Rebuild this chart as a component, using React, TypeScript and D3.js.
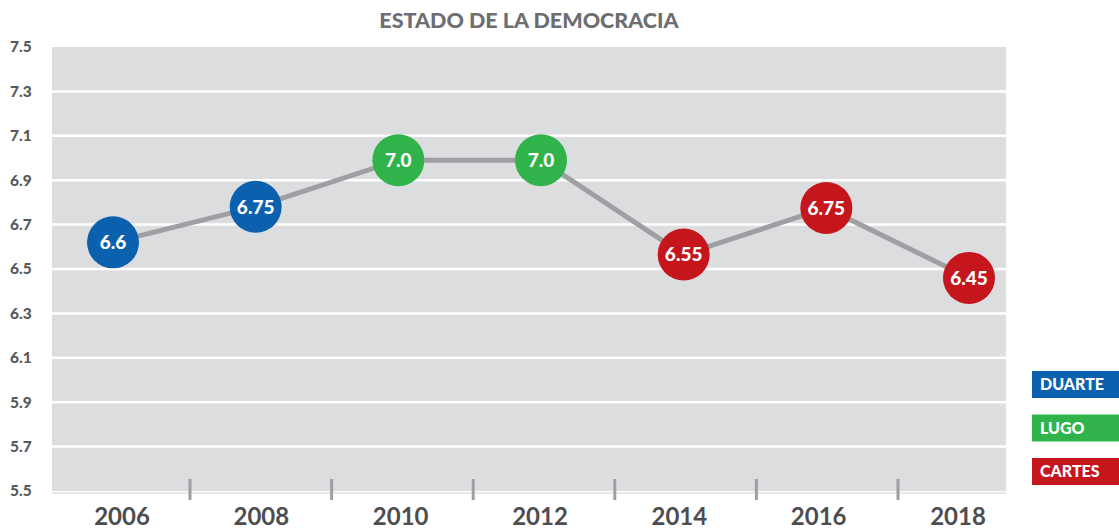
import React from "react";
import * as d3 from "d3";

const years = ["2006", "2008", "2010", "2012", "2014", "2016", "2018"];
const scoreLabels = ["6.6", "6.75", "7.0", "7.0", "6.55", "6.75", "6.45"];
const plotted = [6.62, 6.78, 6.99, 6.99, 6.565, 6.775, 6.46];
const presidents = ["DUARTE", "DUARTE", "LUGO", "LUGO", "CARTES", "CARTES", "CARTES"];
const yTicks = [5.5, 5.7, 5.9, 6.1, 6.3, 6.5, 6.7, 6.9, 7.1, 7.3, 7.5];
const legendNames = ["DUARTE", "LUGO", "CARTES"];
const legendColors = ["#0b61ad", "#2fb34a", "#c5161d"];

const W = 1119;
const H = 529;
const FONT = "Lato, 'Open Sans', sans-serif";

export default function App() {
  const color = d3.scaleOrdinal<string, string>().domain(legendNames).range(legendColors);
  const y = d3.scaleLinear().domain([5.5, 7.5]).range([491, 47]);
  const xPts = d3.scalePoint<string>().domain(years).range([113, 969]);
  const xLab = d3.scalePoint<string>().domain(years).range([122, 958]);
  const gaps = years.slice(1);
  const xTick = d3.scalePoint<string>().domain(gaps).range([190, 898]);
  const line = d3
    .line<number>()
    .x((_, i) => xPts(years[i]) as number)
    .y((d) => y(d));

  return (
    <svg width={W} height={H} style={{ position: "absolute", left: 0, top: 0, fontFamily: FONT }}>
      <rect x={0} y={0} width={W} height={H} fill="#ffffff" />
      <text x={529} y={28} textAnchor="middle" fontSize={21.5} fontWeight={900} fill="#6d6e71">
        ESTADO DE LA DEMOCRACIA
      </text>
      <rect x={52} y={y(7.5)} width={1006 - 52} height={y(5.5) - y(7.5)} fill="#dcdddf" />
      {yTicks.slice(1, -1).map((t) => (
        <line key={t} x1={52} x2={1006} y1={y(t)} y2={y(t)} stroke="#ffffff" strokeWidth={2.5} />
      ))}
      <line x1={52} x2={1006} y1={y(5.5) + 2} y2={y(5.5) + 2} stroke="#e6e7e8" strokeWidth={2} />
      {yTicks.map((t) => (
        <text
          key={"l" + t}
          x={10}
          y={y(t)}
          dy="0.35em"
          fontSize={15.5}
          fontWeight={900}
          fill="#58595b"
        >
          {t.toFixed(1)}
        </text>
      ))}
      {gaps.map((g) => (
        <line key={"t" + g} x1={xTick(g)} x2={xTick(g)} y1={479} y2={500} stroke="#9d9fa2" strokeWidth={3} />
      ))}
      {years.map((yr) => (
        <text
          key={"x" + yr}
          x={xLab(yr)}
          y={525}
          textAnchor="middle"
          fontSize={24}
          fontWeight={700}
          fill="#4d4d4f"
        >
          {yr}
        </text>
      ))}
      <path d={line(plotted) || ""} fill="none" stroke="#9d9fa2" strokeWidth={5} />
      {plotted.map((v, i) => (
        <g key={"p" + i} transform={`translate(${xPts(years[i])},${y(v)})`}>
          <circle r={26} fill={color(presidents[i])} />
          <text
            textAnchor="middle"
            dy="0.36em"
            fontSize={19}
            fontWeight={900}
            fill="#ffffff"
          >
            {scoreLabels[i]}
          </text>
        </g>
      ))}
      {legendNames.map((n, i) => (
        <g key={"lg" + n} transform={`translate(1032,${371 + i * 43.5})`}>
          <rect width={87} height={27} fill={color(n)} />
          <text x={8} y={13.5} dy="0.36em" fontSize={16} fontWeight={900} fill="#ffffff">
            {n}
          </text>
        </g>
      ))}
    </svg>
  );
}
